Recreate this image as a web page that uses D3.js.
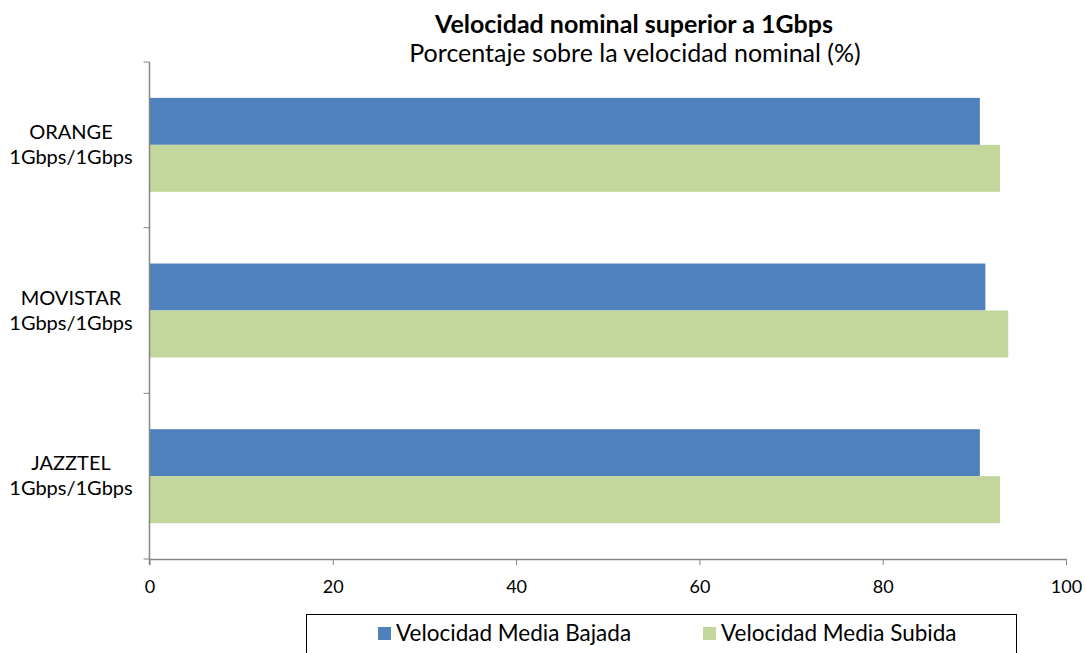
<!DOCTYPE html>
<html>
<head>
<meta charset="utf-8">
<script src="https://cdn.jsdelivr.net/npm/d3@7"></script>
<style>
  body { margin: 0; background: #fff; }
  text { font-family: Lato, "Open Sans", sans-serif; fill: #000; }
</style>
</head>
<body>
<script>
let w = 1085;
let h = 653;

// data
let categories = ["ORANGE|1Gbps/1Gbps", "MOVISTAR|1Gbps/1Gbps", "JAZZTEL|1Gbps/1Gbps"];
let bajada = [90.6, 91.2, 90.6];
let subida = [92.8, 93.7, 92.8];
let seriesNames = ["Velocidad Media Bajada", "Velocidad Media Subida"];
let seriesColors = ["#4f81bd", "#c3d69b"];
let xTicks = [0, 20, 40, 60, 80, 100];

let plotL = 149.5, plotR = 1066, plotT = 62, plotB = 559;

let svg = d3.select("body").append("svg").attr("width", w).attr("height", h);

let x = d3.scaleLinear().domain([0, 100]).range([plotL, plotR]);
let y = d3.scaleBand().domain(categories).range([plotT, plotB]).paddingInner(0.433).paddingOuter(0.2165);
let y1 = d3.scaleBand().domain([0, 1]).range([0, y.bandwidth()]);

// title
svg.append("text").attr("x", 634).attr("y", 33).attr("text-anchor", "middle")
  .style("font-size", "25px").style("font-weight", "bold").text("Velocidad nominal superior a 1Gbps");
svg.append("text").attr("x", 635).attr("y", 62).attr("text-anchor", "middle")
  .style("font-size", "25px").text("Porcentaje sobre la velocidad nominal (%)");

// bars
let groups = svg.selectAll("g.cat").data(categories).enter().append("g")
  .attr("class", "cat")
  .attr("transform", (d) => "translate(0," + y(d) + ")");

groups.append("rect")
  .attr("x", x(0)).attr("y", y1(0))
  .attr("width", (d, i) => x(bajada[i]) - x(0))
  .attr("height", y1.bandwidth())
  .attr("fill", seriesColors[0]);

groups.append("rect")
  .attr("x", x(0)).attr("y", y1(1))
  .attr("width", (d, i) => x(subida[i]) - x(0))
  .attr("height", y1.bandwidth())
  .attr("fill", seriesColors[1]);

// x axis
let xAxis = svg.append("g").attr("transform", "translate(0," + plotB + ")")
  .call(d3.axisBottom(x).tickValues(xTicks).tickSize(6).tickSizeOuter(0));
xAxis.select(".domain").attr("stroke", "#868686").attr("stroke-width", 1.5);
xAxis.selectAll(".tick line").attr("stroke", "#868686");
xAxis.selectAll(".tick text").attr("y", 34).attr("dy", 0)
  .style("font-size", "18px").style("font-family", "Lato, sans-serif");

// y axis with ticks at category boundaries
let yAxis = svg.append("g").attr("transform", "translate(" + plotL + ",0)");
yAxis.append("line").attr("x1", 0).attr("x2", 0).attr("y1", plotT).attr("y2", plotB + 6)
  .attr("stroke", "#868686").attr("stroke-width", 1.5);
let step = (plotB - plotT) / categories.length;
let bounds = d3.range(categories.length + 1).map((i) => plotT + i * step);
yAxis.selectAll("line.tk").data(bounds).enter().append("line")
  .attr("class", "tk").attr("x1", -6).attr("x2", 0)
  .attr("y1", (d) => d).attr("y2", (d) => d)
  .attr("stroke", "#868686");

let labels = svg.selectAll("text.cat").data(categories).enter().append("text")
  .attr("class", "cat")
  .attr("text-anchor", "middle")
  .style("font-size", "20px");
labels.each(function (d) {
  let t = d3.select(this);
  let mid = y(d) + y.bandwidth() / 2;
  d.split("|").forEach((s, k) => {
    t.append("tspan").attr("x", 71).attr("y", mid - 6 + k * 25).text(s);
  });
});

// legend
let lg = svg.append("g");
lg.append("rect").attr("x", 306.5).attr("y", 614.5).attr("width", 710).attr("height", 50)
  .attr("fill", "none").attr("stroke", "#000").attr("stroke-width", 1);
let legX = [378, 703];
seriesNames.forEach((s, i) => {
  lg.append("rect").attr("x", legX[i]).attr("y", 627).attr("width", 13).attr("height", 13)
    .attr("fill", seriesColors[i]);
  lg.append("text").attr("x", legX[i] + 18).attr("y", 641)
    .style("font-size", "22.5px").text(s);
});
</script>
</body>
</html>
